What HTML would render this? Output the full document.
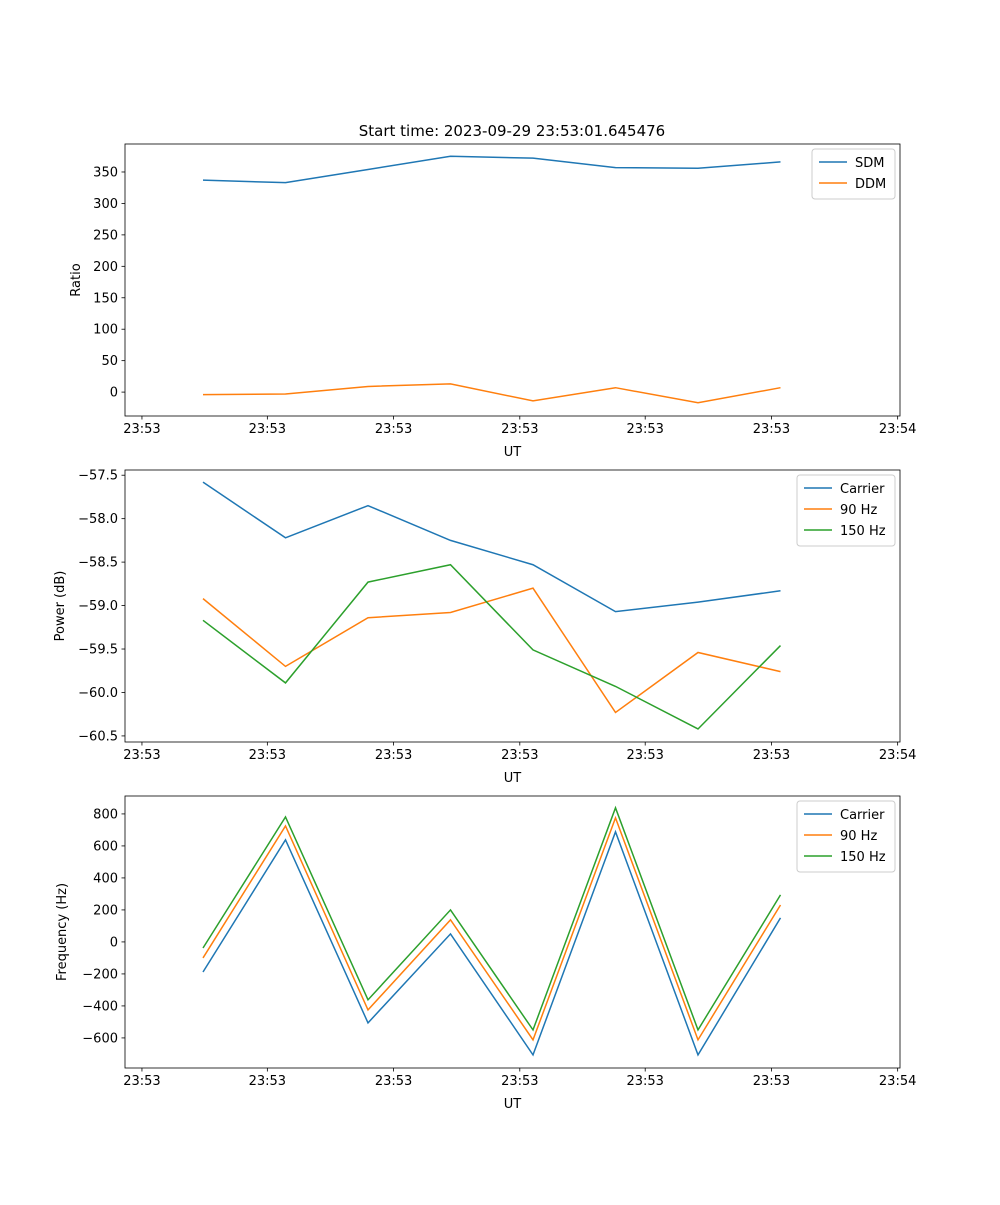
<!DOCTYPE html>
<html><head><meta charset="utf-8"><style>
body{margin:0;background:#fff;font-family:"Liberation Sans","DejaVu Sans",sans-serif}
svg text{font-family:"DejaVu Sans","Liberation Sans",sans-serif;font-size:13px;fill:#000}
</style></head><body>
<svg id="fig" width="1000" height="1200"></svg>
<script>
const xTickLabels=["23:53","23:53","23:53","23:53","23:53","23:53","23:54"];
const xTickIdx=[-0.74,0.78,2.31,3.84,5.36,6.89,8.42]; // ticks in sample-index units
const pointIdx=[0,1,2,3,4,5,6,7];
const sdm=[337,333,354,375,372,357,356,366];
const ddm=[-4,-3,9,13,-14,7,-17,7];
const pCarrier=[-57.58,-58.22,-57.85,-58.25,-58.53,-59.07,-58.96,-58.83];
const p90=[-58.92,-59.70,-59.14,-59.08,-58.80,-60.23,-59.54,-59.76];
const p150=[-59.17,-59.89,-58.73,-58.53,-59.51,-59.93,-60.42,-59.46];
const fCarrier=[-188,638,-506,50,-706,688,-706,150];
const f90=[-100,725,-425,138,-612,775,-612,231];
const f150=[-38,781,-362,200,-550,838,-550,294];
const ticks1=[0,50,100,150,200,250,300,350];
const ticks2=[-60.5,-60.0,-59.5,-59.0,-58.5,-58.0,-57.5];
const ticks3=[-600,-400,-200,0,200,400,600,800];

const NS="http://www.w3.org/2000/svg",svg=document.getElementById('fig');
function mk(t,a,p){const e=document.createElementNS(NS,t);for(const k in a)e.setAttribute(k,a[k]);(p||svg).appendChild(e);return e;}
const C=['#1f77b4','#ff7f0e','#2ca02c'];
function panel(top,ylim,yt,fmt,ylabel,series,names,legW,name){
  const L=125,R=900,T=top,B=top+272;
  const g=mk('g',{});
  
  
  const xs=i=>L+(i-(-1.5))/(9.9-(-1.5))*0+0; // placeholder
  const x=i=>203+i*82.5;
  const y=v=>B-(v-ylim[0])/(ylim[1]-ylim[0])*(B-T);
  series.forEach((s,k)=>{
    const pl=mk('polyline',{points:s.map((v,i)=>x(pointIdx[i])+','+y(v)).join(' '),fill:'none',stroke:C[k],'stroke-width':1.5},g);
    
    
  });
  mk('rect',{x:L,y:T,width:R-L,height:B-T,fill:'none',stroke:'#000','stroke-width':0.8},g);
  xTickIdx.forEach((t,i)=>{const xx=x(t);mk('line',{x1:xx,x2:xx,y1:B,y2:B+3.5,stroke:'#000','stroke-width':0.8},g);
    const tx=mk('text',{x:xx,y:B+17,'text-anchor':'middle'},g);tx.textContent=xTickLabels[i];});
  yt.forEach(v=>{const yy=y(v);mk('line',{x1:L-3.5,x2:L,y1:yy,y2:yy,stroke:'#000','stroke-width':0.8},g);
    const tx=mk('text',{x:L-7,y:yy+4.5,'text-anchor':'end'},g);tx.textContent=fmt(v);});
  const xl=mk('text',{x:(L+R)/2,y:B+40,'text-anchor':'middle'},g);xl.textContent='UT';
  
  const yl=mk('text',{x:0,y:0,'text-anchor':'middle',transform:`translate(${ylabel[1]},${(T+B)/2}) rotate(-90)`},g);yl.textContent=ylabel[0];
  
  const lx=R-5-legW,lh=names.length*21+8;
  const lg=mk('g',{},g);
  
  
  mk('rect',{x:lx,y:T+5,width:legW,height:lh,rx:3,fill:'#fff',stroke:'#ccc'},lg);
  names.forEach((n,k)=>{const yy=T+18+k*21;mk('line',{x1:lx+7,x2:lx+35,y1:yy,y2:yy,stroke:C[k],'stroke-width':1.5},lg);
    const tx=mk('text',{x:lx+43,y:yy+5},lg);tx.textContent=n;});
}
const t=mk('text',{x:512,y:136,'text-anchor':'middle','font-size':'15'});t.textContent='Start time: 2023-09-29 23:53:01.645476';t.style.fontSize='15px';

panel(144,[-38,394.5],ticks1,v=>String(v),['Ratio',80],[sdm,ddm],['SDM','DDM'],83,'ratio-panel');
panel(470,[-60.57,-57.44],ticks2,v=>'\u2212'+Math.abs(v).toFixed(1),['Power (dB)',64],[pCarrier,p90,p150],['Carrier','90 Hz','150 Hz'],98,'power-panel');
panel(796,[-788,912],ticks3,v=>v<0?'\u2212'+Math.abs(v):String(v),['Frequency (Hz)',66],[fCarrier,f90,f150],['Carrier','90 Hz','150 Hz'],98,'frequency-panel');
</script>
</body></html>
